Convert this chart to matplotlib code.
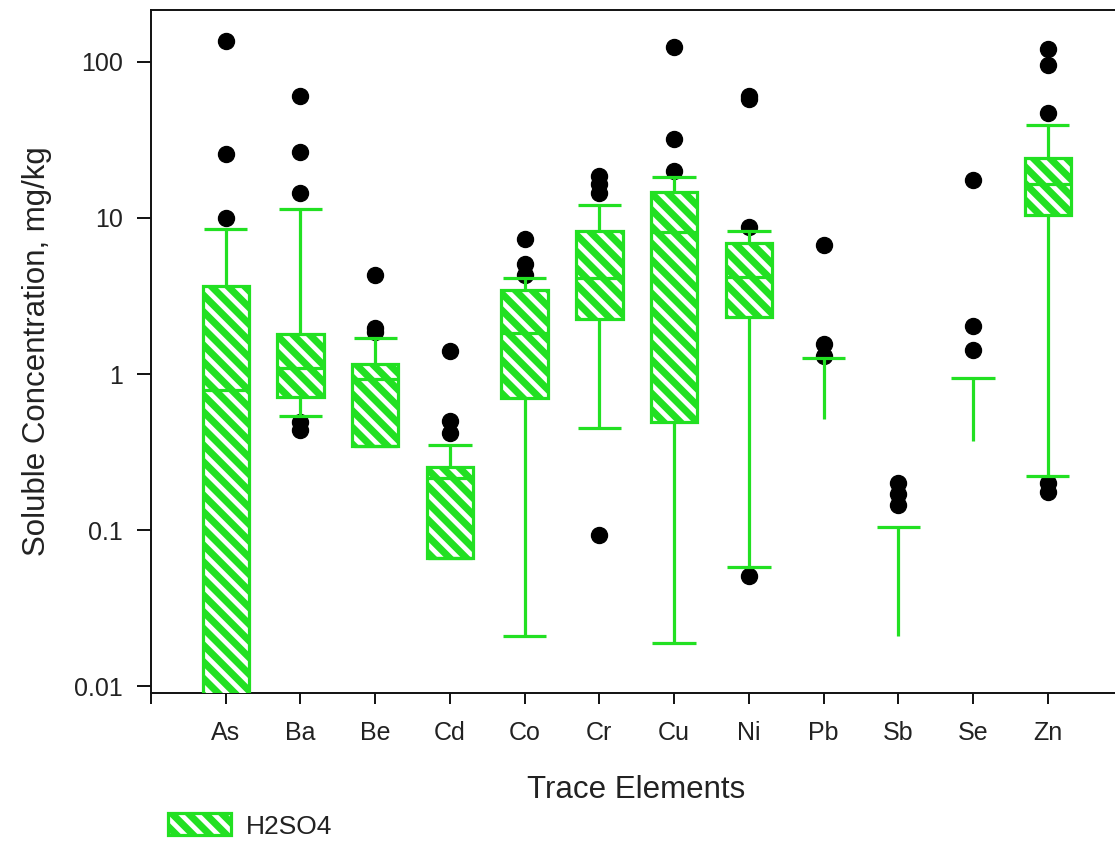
import numpy as np
import matplotlib
matplotlib.use("Agg")
import matplotlib.pyplot as plt
from matplotlib.patches import Patch
from matplotlib.legend_handler import HandlerTuple

nan = np.nan
elements = ['As', 'Ba', 'Be', 'Cd', 'Co', 'Cr', 'Cu', 'Ni', 'Pb', 'Sb', 'Se', 'Zn']
q1 = [0.002, 0.71, 0.345, 0.066, 0.70, 2.25, 0.49, 2.32, nan, nan, nan, 10.5]
med = [0.79, 1.09, 0.93, 0.215, 1.83, 4.12, 8.15, 4.18, nan, nan, nan, 16.5]
q3 = [3.66, 1.81, 1.16, 0.2525, 3.45, 8.25, 14.7, 6.9, nan, nan, nan, 24.3]
whislo = [0.002, 0.538, 0.345, 0.066, 0.0209, 0.45, 0.0188, 0.058, 0.515, 0.0209, 0.372, 0.222]
whishi = [8.5, 11.4, 1.70, 0.35, 4.12, 12.1, 18.3, 8.25, 1.27, 0.105, 0.94, 39.5]
outliers = [
    [136, 25.7, 10.0],
    [60.5, 26.5, 14.5, 0.49, 0.44],
    [4.3, 1.97, 1.85],
    [1.40, 0.50, 0.42],
    [7.3, 5.1, 4.3],
    [18.6, 16.5, 14.5, 0.093],
    [124, 32.2, 20.0],
    [60.5, 58, 8.8, 0.051],
    [6.7, 1.56, 1.3],
    [0.2, 0.17, 0.145],
    [17.5, 2.03, 1.43],
    [121, 96, 47, 0.2, 0.175],
]
series_label = 'H2SO4'

GREEN = '#22e022'
TXT = '#222222'
plt.rcParams['font.family'] = ['Liberation Sans', 'DejaVu Sans']
plt.rcParams['hatch.linewidth'] = 3.4

W, H = 1115, 843
fig = plt.figure(figsize=(W / 100, H / 100), dpi=100)
ax_left, ax_right, ax_top, ax_bot = 151, 1122.5, 10, 693
ax = fig.add_axes([ax_left / W, (H - ax_bot) / H, (ax_right - ax_left) / W, (ax_bot - ax_top) / H])

pos = np.arange(1, len(elements) + 1)
box_w = 0.62
cap_w = 0.58
lw = 2.3

# outliers (drawn beneath)
for p, outs in zip(pos, outliers):
    ax.plot([p] * len(outs), outs, 'o', color='black', markersize=11.5, zorder=2, linestyle='none')

q1a, q3a, meda = np.array(q1), np.array(q3), np.array(med)
has_box = ~np.isnan(q1a)
# hatched fill
ax.bar(pos[has_box], (q3a - q1a)[has_box], bottom=q1a[has_box], width=box_w,
       color=GREEN, edgecolor='white', hatch='\\\\', linewidth=0, zorder=3)
# box outline
ax.bar(pos[has_box], (q3a - q1a)[has_box], bottom=q1a[has_box], width=box_w,
       fill=False, edgecolor=GREEN, linewidth=lw, zorder=4)
# medians
ax.hlines(meda[has_box], pos[has_box] - box_w / 2, pos[has_box] + box_w / 2,
          color=GREEN, linewidth=lw, zorder=4)

for i, p in enumerate(pos):
    if has_box[i]:
        ax.vlines(p, q3a[i], whishi[i], color=GREEN, linewidth=lw, zorder=4)
        ax.vlines(p, whislo[i], q1a[i], color=GREEN, linewidth=lw, zorder=4)
        ax.hlines([whislo[i], whishi[i]], p - cap_w / 2, p + cap_w / 2, color=GREEN, linewidth=lw, zorder=4)
    else:
        ax.vlines(p, whislo[i], whishi[i], color=GREEN, linewidth=lw, zorder=4)
        ax.hlines(whishi[i], p - cap_w / 2, p + cap_w / 2, color=GREEN, linewidth=lw, zorder=4)

ax.set_yscale('log')
ax.set_ylim(0.00905, 215)
ax.set_xlim(0, 13)
yt = [0.01, 0.1, 1, 10, 100]
ax.set_yticks(yt)
ax.set_yticklabels(['0.01', '0.1', '1', '10', '100'])
ax.yaxis.set_minor_locator(matplotlib.ticker.NullLocator())
ax.set_xticks(np.concatenate([[0], pos]))
ax.set_xticklabels([''] + elements)

for s in ax.spines.values():
    s.set_linewidth(1.4)
    s.set_color('#111111')
ax.spines['right'].set_visible(False)
ax.tick_params(axis='y', length=10, width=1.4, pad=10, labelsize=18, colors='#111111',
               labelcolor=TXT, direction='out')
ax.tick_params(axis='x', length=8, width=1.4, pad=12, labelsize=18, colors='#111111',
               labelcolor=TXT, direction='out')

ax.set_xlabel('Trace Elements', fontsize=22.5, color=TXT, va='center')
ax.xaxis.set_label_coords((636 - ax_left) / (ax_right - ax_left), (ax_bot - 790) / (ax_bot - ax_top))
ax.set_ylabel('Soluble Concentration, mg/kg', fontsize=22.5, color=TXT, va='center')
ax.yaxis.set_label_coords((37 - ax_left) / (ax_right - ax_left), 0.5)

h_fill = Patch(facecolor=GREEN, edgecolor='white', hatch='\\\\', linewidth=0)
h_edge = Patch(fill=False, edgecolor=GREEN, linewidth=lw)
fig.legend(handles=[(h_fill, h_edge)], labels=[series_label],
           handler_map={tuple: HandlerTuple(ndivide=1, pad=0)},
           loc='center left', bbox_to_anchor=(168 / W, (H - 826) / H),
           frameon=False, fontsize=19, borderaxespad=0, borderpad=0,
           handlelength=2.4, handleheight=0.9, handletextpad=0.55, labelcolor=TXT)

fig.savefig('out.png', dpi=100)
